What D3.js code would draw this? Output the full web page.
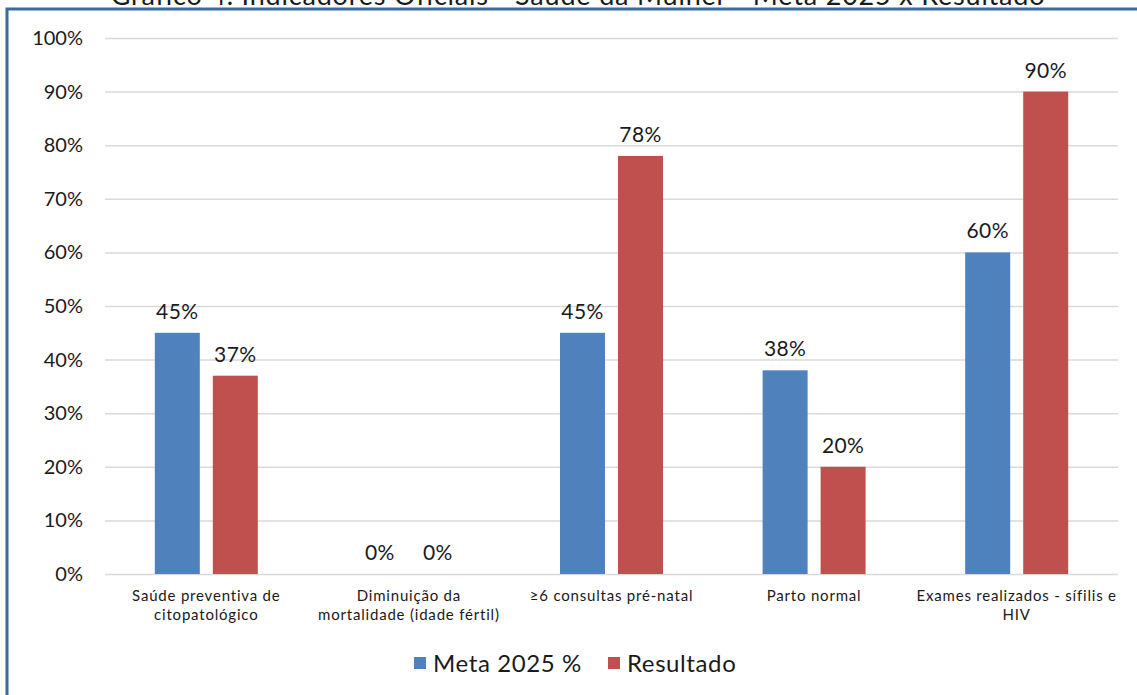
<!DOCTYPE html>
<html>
<head>
<meta charset="utf-8">
<script src="https://cdn.jsdelivr.net/npm/d3@7"></script>
<style>
  body { margin: 0; background: #fff; }
  svg { display: block; font-family: "Lato", "Noto Sans", sans-serif; }
  .grid line { stroke: #d9d9d9; stroke-width: 1.5; }
  .grid .domain { display: none; }
</style>
</head>
<body>
<svg id="chart"></svg>
<script>
var categories = [
  ["Saúde preventiva de", "citopatológico"],
  ["Diminuição da", "mortalidade (idade fértil)"],
  ["≥6 consultas pré-natal"],
  ["Parto normal"],
  ["Exames realizados - sífilis e", "HIV"]
];
var seriesNames = ["Meta 2025 %", "Resultado"];
var meta = [45, 0, 45, 38, 60];
var resultado = [37, 0, 78, 20, 90];
var yTicks = [0, 10, 20, 30, 40, 50, 60, 70, 80, 90, 100];
var colors = ["#4f81bd", "#c0504d"];

var W = 1137, H = 695;
var margin = {top: 38, right: 19, bottom: 121, left: 105};
var width = W - margin.left - margin.right,
    height = H - margin.top - margin.bottom;

var svg = d3.select("#chart").attr("width", W).attr("height", H);

// frame border (top + left visible)
svg.append("path")
  .attr("d", "M7," + (H + 5) + "V9H" + (W + 5))
  .attr("fill", "none")
  .attr("stroke", "#3c6aa1")
  .attr("stroke-width", 3);

// title, mostly cut off at top of the crop
svg.append("text")
  .attr("x", 578)
  .attr("y", 5)
  .attr("text-anchor", "middle")
  .attr("font-size", 27)
  .attr("letter-spacing", 0.8)
  .attr("fill", "#1a1a1a")
  .text("Gráfico 4. Indicadores Oficiais - Saúde da Mulher - Meta 2025 x Resultado");

var g = svg.append("g")
  .attr("transform", "translate(" + margin.left + "," + margin.top + ")");

var x0 = d3.scaleBand()
  .domain(d3.range(categories.length))
  .range([0, width]);

var y = d3.scaleLinear()
  .domain([0, 100])
  .range([height, 0]);

g.append("g")
  .attr("class", "grid")
  .call(d3.axisLeft(y).tickValues(yTicks).tickSize(-width).tickFormat(""));

// y labels
g.selectAll(".ylab")
  .data(yTicks)
  .enter().append("text")
  .attr("class", "ylab")
  .attr("x", -22)
  .attr("y", function(d) { return y(d); })
  .attr("dy", "0.35em")
  .attr("text-anchor", "end")
  .attr("font-size", 20)
  .attr("fill", "#1a1a1a")
  .text(function(d) { return d + "%"; });

var barW = 45, gap = 13;
var series = [meta, resultado];

series.forEach(function(vals, si) {
  var xoff = si === 0 ? -gap / 2 - barW : gap / 2;
  g.selectAll(".bar" + si)
    .data(vals)
    .enter().append("rect")
    .attr("x", function(d, i) { return x0(i) + x0.bandwidth() / 2 + xoff; })
    .attr("y", function(d) { return y(d); })
    .attr("width", barW)
    .attr("height", function(d) { return height - y(d); })
    .attr("fill", colors[si]);

  g.selectAll(".lab" + si)
    .data(vals)
    .enter().append("text")
    .attr("x", function(d, i) { return x0(i) + x0.bandwidth() / 2 + xoff + barW / 2; })
    .attr("y", function(d) { return y(d) - 14; })
    .attr("text-anchor", "middle")
    .attr("font-size", 21)
    .attr("letter-spacing", 0.4)
    .attr("fill", "#1a1a1a")
    .text(function(d) { return d + "%"; });
});

// category labels
var cat = g.selectAll(".cat")
  .data(categories)
  .enter().append("text")
  .attr("class", "cat")
  .attr("text-anchor", "middle")
  .attr("font-size", 15)
  .attr("letter-spacing", 0.8)
  .attr("fill", "#1a1a1a");
cat.selectAll("tspan")
  .data(function(d, i) { return d.map(function(l) { return {l: l, i: i}; }); })
  .enter().append("tspan")
  .attr("x", function(d) { return x0(d.i) + x0.bandwidth() / 2; })
  .attr("y", function(d, j) { return height + 27 + j * 19; })
  .text(function(d) { return d.l; });

// legend
var legX = [414, 608];
var leg = svg.selectAll(".leg")
  .data(seriesNames)
  .enter().append("g")
  .attr("transform", function(d, i) { return "translate(" + legX[i] + ",663)"; });
leg.append("rect")
  .attr("x", 0).attr("y", -6)
  .attr("width", 12).attr("height", 12)
  .attr("fill", function(d, i) { return colors[i]; });
leg.append("text")
  .attr("x", 19)
  .attr("dy", "0.36em")
  .attr("font-size", 24)
  .attr("letter-spacing", 0.6)
  .attr("fill", "#1a1a1a")
  .text(function(d) { return d; });
</script>
</body>
</html>
